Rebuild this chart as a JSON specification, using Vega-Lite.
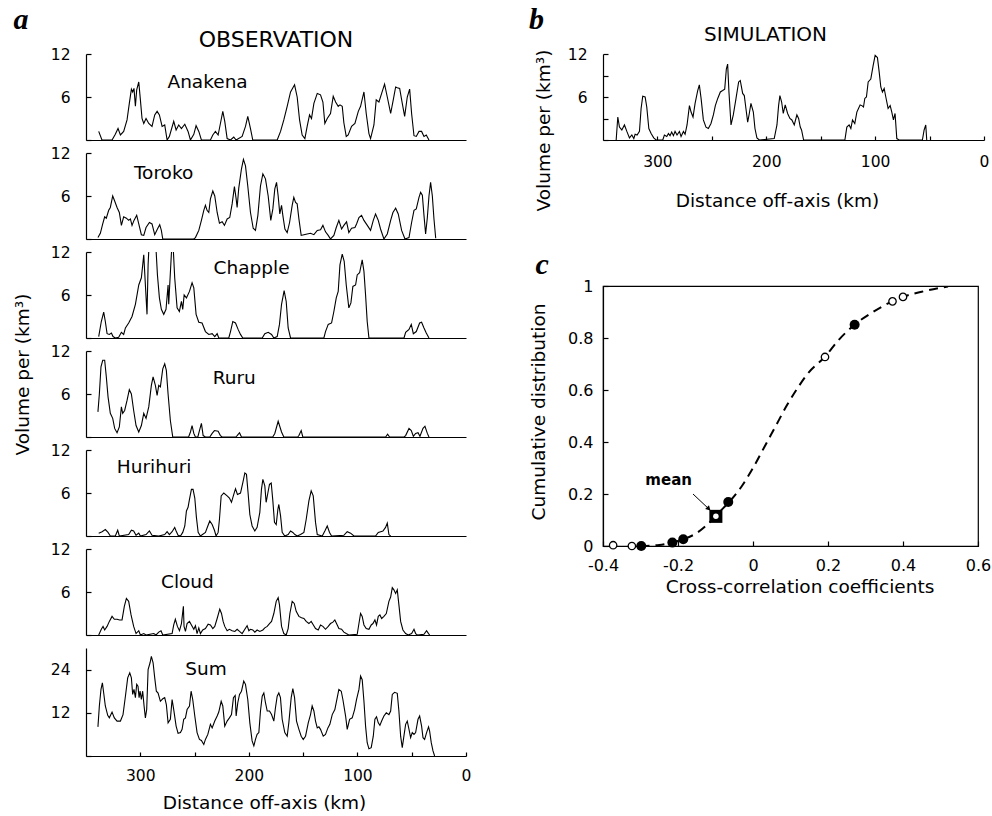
{
"$schema": "https://vega.github.io/schema/vega-lite/v6.json",
"background": "white",
"padding": {"left": 13, "top": 5, "right": 0, "bottom": 0},
"config": {
 "font": "DejaVu Sans",
 "view": {"stroke": null},
 "axis": {"domainColor": "#000", "tickColor": "#000", "labelColor": "#000", "titleColor": "#000", "grid": false, "labelFont": "DejaVu Sans", "titleFont": "DejaVu Sans", "labelFontSize": 15.5, "titleFontSize": 18.5, "titleFontWeight": "normal", "domainWidth": 1.2, "tickWidth": 1.2, "labelFlush": false},
 "title": {"font": "Liberation Serif", "fontStyle": "italic", "fontWeight": "bold", "fontSize": 30, "color": "#000", "anchor": "start", "frame": "bounds"},
 "line": {"color": "#000", "strokeWidth": 1.1}
},
"datasets": {
 "Anakena": [{"d":338.3,"v":1.2},{"d":335.3,"v":0},{"d":326,"v":0},{"d":323,"v":0.8},{"d":320.5,"v":1.6},{"d":318.3,"v":0.7},{"d":315.3,"v":1.2},{"d":312.2,"v":2.8},{"d":310.1,"v":5.1},{"d":308.2,"v":7.1},{"d":307,"v":6.7},{"d":305.8,"v":7.2},{"d":304.5,"v":4.7},{"d":303.3,"v":7.0},{"d":301.4,"v":8.1},{"d":299.9,"v":5.6},{"d":298.4,"v":3.0},{"d":296.8,"v":2.3},{"d":294.7,"v":3.0},{"d":292.2,"v":2.3},{"d":289.2,"v":1.9},{"d":286.7,"v":3.5},{"d":284.5,"v":4.0},{"d":282.4,"v":3.5},{"d":279.9,"v":1.9},{"d":277.5,"v":2.1},{"d":275.3,"v":0},{"d":273.2,"v":0.5},{"d":269.2,"v":2.6},{"d":267,"v":1.4},{"d":264.6,"v":2.1},{"d":262.1,"v":1.6},{"d":259,"v":2.2},{"d":256,"v":1.2},{"d":253.8,"v":0},{"d":250.7,"v":0.8},{"d":248.6,"v":2.0},{"d":246.1,"v":1.2},{"d":243.7,"v":0},{"d":235.4,"v":0},{"d":233.2,"v":0.7},{"d":230.8,"v":1.2},{"d":228.3,"v":0.7},{"d":226.2,"v":2.3},{"d":224,"v":4.0},{"d":222.2,"v":2.6},{"d":220,"v":0.2},{"d":216.9,"v":0},{"d":213.9,"v":0.4},{"d":211.7,"v":0},{"d":206.2,"v":0.5},{"d":203.1,"v":1.9},{"d":201,"v":3.3},{"d":198.5,"v":1.6},{"d":196.4,"v":0},{"d":173.9,"v":0},{"d":170.8,"v":1.2},{"d":167.8,"v":2.8},{"d":164.7,"v":4.7},{"d":161.6,"v":6.7},{"d":157.9,"v":7.7},{"d":155.5,"v":6.0},{"d":153.3,"v":2.8},{"d":150.9,"v":0.7},{"d":148.4,"v":0.2},{"d":146.3,"v":1.9},{"d":144.1,"v":3.5},{"d":142.3,"v":3.0},{"d":140.1,"v":5.1},{"d":137,"v":6.5},{"d":134,"v":6.3},{"d":131.8,"v":5.3},{"d":130,"v":2.3},{"d":127.8,"v":3.0},{"d":124.8,"v":3.7},{"d":122.3,"v":6.1},{"d":120.1,"v":5.3},{"d":117.7,"v":4.7},{"d":116.1,"v":4.9},{"d":114,"v":4.7},{"d":112.5,"v":2.4},{"d":110.3,"v":0.5},{"d":108.5,"v":0.7},{"d":105.4,"v":1.9},{"d":102.3,"v":2.3},{"d":99.2,"v":4.0},{"d":97.1,"v":4.7},{"d":94,"v":6.7},{"d":91.9,"v":3.7},{"d":89.4,"v":0.9},{"d":87.9,"v":0.2},{"d":84.8,"v":2.1},{"d":82.7,"v":5.6},{"d":80.2,"v":5.3},{"d":77.7,"v":6.5},{"d":75,"v":7.8},{"d":72.5,"v":6.0},{"d":69.4,"v":3.7},{"d":67,"v":5.6},{"d":64.8,"v":7.4},{"d":63.3,"v":7.3},{"d":61.1,"v":7.2},{"d":58.7,"v":5.1},{"d":56.5,"v":3.3},{"d":54.1,"v":6.0},{"d":51.9,"v":7.1},{"d":50.1,"v":3.7},{"d":47.9,"v":0.6},{"d":45.8,"v":0.5},{"d":43.3,"v":1.2},{"d":40.9,"v":1.2},{"d":38.7,"v":0.5},{"d":36.6,"v":0.7},{"d":34.1,"v":0}],
 "Toroko": [{"d":339,"v":0.2},{"d":336.8,"v":0.8},{"d":334.6,"v":2.1},{"d":332.8,"v":3.1},{"d":331.3,"v":2.9},{"d":329.1,"v":4.0},{"d":327.6,"v":4.4},{"d":325.4,"v":6.0},{"d":323.6,"v":5.3},{"d":321.4,"v":4.4},{"d":319.3,"v":3.7},{"d":317.4,"v":1.9},{"d":315.3,"v":3.1},{"d":312.8,"v":2.9},{"d":310.7,"v":2.6},{"d":309.1,"v":2.8},{"d":307.6,"v":1.9},{"d":305.8,"v":2.6},{"d":303.3,"v":3.3},{"d":301.4,"v":2.1},{"d":299,"v":0.6},{"d":296.8,"v":0.5},{"d":294.7,"v":1.6},{"d":291.6,"v":2.3},{"d":289.2,"v":2.1},{"d":286.7,"v":0.6},{"d":284.2,"v":1.4},{"d":282.1,"v":2.0},{"d":280.6,"v":1.2},{"d":279.3,"v":0},{"d":250.7,"v":0},{"d":249.2,"v":0.2},{"d":246.1,"v":1.2},{"d":243.7,"v":2.6},{"d":241.5,"v":4.0},{"d":240,"v":4.7},{"d":238.5,"v":4.0},{"d":236.9,"v":3.7},{"d":235.4,"v":5.6},{"d":233.2,"v":6.7},{"d":231.4,"v":6.0},{"d":229.2,"v":3.7},{"d":227.1,"v":2.2},{"d":224.6,"v":2.4},{"d":222.5,"v":1.9},{"d":220,"v":2.8},{"d":217.6,"v":3.0},{"d":215.4,"v":4.9},{"d":213.3,"v":7.3},{"d":211.7,"v":5.6},{"d":210.8,"v":4.4},{"d":209.3,"v":7.1},{"d":206.8,"v":9.8},{"d":205,"v":11.1},{"d":203.1,"v":10.2},{"d":201,"v":7.4},{"d":198.5,"v":3.7},{"d":196,"v":1.5},{"d":193.9,"v":1.2},{"d":191.7,"v":3.3},{"d":189.3,"v":7.4},{"d":187.1,"v":9.1},{"d":184.7,"v":8.4},{"d":182.2,"v":6.0},{"d":179.8,"v":2.6},{"d":177.9,"v":4.2},{"d":176.1,"v":7.0},{"d":174.5,"v":7.9},{"d":173,"v":6.0},{"d":171.5,"v":3.5},{"d":169.9,"v":4.7},{"d":168.7,"v":3.3},{"d":166.8,"v":1.4},{"d":164.7,"v":0.9},{"d":162.5,"v":2.3},{"d":160.1,"v":4.7},{"d":158.6,"v":5.8},{"d":157,"v":5.1},{"d":155.5,"v":4.9},{"d":153.9,"v":2.8},{"d":151.8,"v":0.5},{"d":149.3,"v":0.6},{"d":146.3,"v":0.7},{"d":143.2,"v":0.8},{"d":140.1,"v":0.6},{"d":137,"v":1.2},{"d":134,"v":1.3},{"d":131.8,"v":1.9},{"d":129.4,"v":1.0},{"d":126.9,"v":0.5},{"d":124.8,"v":0},{"d":121.7,"v":0.5},{"d":119.5,"v":1.6},{"d":117.1,"v":2.6},{"d":114.6,"v":1.4},{"d":112.5,"v":1.9},{"d":110,"v":2.4},{"d":107.9,"v":0.9},{"d":105.4,"v":1.5},{"d":102.3,"v":1.6},{"d":100.8,"v":2.1},{"d":98.6,"v":3.0},{"d":96.2,"v":3.3},{"d":94,"v":2.6},{"d":90.9,"v":1.9},{"d":87.9,"v":1.2},{"d":85.4,"v":2.6},{"d":83.3,"v":3.5},{"d":80.8,"v":2.6},{"d":78.7,"v":1.4},{"d":75.6,"v":0},{"d":72.5,"v":0.7},{"d":69.4,"v":2.6},{"d":67.3,"v":3.7},{"d":64.8,"v":4.3},{"d":62.4,"v":3.5},{"d":59.3,"v":1.2},{"d":56.2,"v":0},{"d":52.5,"v":0.2},{"d":50.1,"v":2.3},{"d":47.9,"v":4.0},{"d":45.8,"v":4.2},{"d":43.3,"v":5.8},{"d":41.8,"v":6.5},{"d":40.2,"v":6.1},{"d":38.7,"v":3.3},{"d":37.2,"v":0.7},{"d":35.6,"v":3.0},{"d":34.1,"v":6.0},{"d":32.6,"v":7.9},{"d":31,"v":6.0},{"d":29.5,"v":2.8},{"d":27.9,"v":0.1}],
 "Chapple": [{"d":338.3,"v":0.2},{"d":335.9,"v":2.3},{"d":333.7,"v":3.6},{"d":332.2,"v":2.3},{"d":330.6,"v":0.6},{"d":328.5,"v":0.5},{"d":326.6,"v":0.7},{"d":325.1,"v":0.2},{"d":323,"v":0},{"d":319.9,"v":0.1},{"d":317.4,"v":0.8},{"d":315.3,"v":0.5},{"d":313.7,"v":1.4},{"d":310.7,"v":2.1},{"d":307.6,"v":3.0},{"d":304.5,"v":4.7},{"d":301.4,"v":7.4},{"d":299,"v":8.4},{"d":296.8,"v":11.6},{"d":295.3,"v":7.4},{"d":293.8,"v":3.3},{"d":292.8,"v":10.2},{"d":291.6,"v":14},{"d":286.1,"v":14},{"d":284.2,"v":8.8},{"d":282.4,"v":5.6},{"d":280.6,"v":4.0},{"d":278.4,"v":3.3},{"d":276.3,"v":4.0},{"d":274.4,"v":7.4},{"d":273.8,"v":4.7},{"d":272.9,"v":7.4},{"d":271.3,"v":11.9},{"d":269.8,"v":13},{"d":268.3,"v":8.4},{"d":266.1,"v":4.2},{"d":264,"v":3.7},{"d":262.1,"v":5.1},{"d":260.9,"v":4.0},{"d":259.6,"v":6.0},{"d":257.5,"v":5.6},{"d":254.7,"v":6.5},{"d":252.3,"v":7.7},{"d":250.7,"v":7.0},{"d":248.6,"v":3.3},{"d":246.1,"v":2.2},{"d":243.1,"v":2.1},{"d":240,"v":0.9},{"d":236.9,"v":0.5},{"d":233.8,"v":0.6},{"d":231.4,"v":0.2},{"d":229.2,"v":0.6},{"d":227.7,"v":0},{"d":218.5,"v":0},{"d":216.9,"v":0.9},{"d":214.8,"v":2.3},{"d":212.3,"v":2.1},{"d":209.9,"v":1.2},{"d":207.7,"v":0.5},{"d":205.6,"v":0},{"d":187.7,"v":0},{"d":185.3,"v":0.6},{"d":182.2,"v":0.8},{"d":179.1,"v":0.5},{"d":177,"v":0},{"d":173.9,"v":0.2},{"d":171.8,"v":1.9},{"d":169.9,"v":4.7},{"d":167.5,"v":6.6},{"d":165.6,"v":5.1},{"d":163.8,"v":1.4},{"d":161.6,"v":0},{"d":130.9,"v":0},{"d":129.4,"v":0.9},{"d":126.9,"v":1.9},{"d":123.8,"v":2.1},{"d":121.7,"v":3.7},{"d":119.5,"v":5.6},{"d":117.7,"v":6.5},{"d":116.1,"v":10.2},{"d":114,"v":11.7},{"d":112.2,"v":10.7},{"d":110.3,"v":7.4},{"d":107.9,"v":4.2},{"d":106,"v":4.9},{"d":104.2,"v":7.2},{"d":101.7,"v":7.4},{"d":100.2,"v":8.8},{"d":98,"v":9.1},{"d":95.6,"v":10.9},{"d":94,"v":9.3},{"d":92.5,"v":6.0},{"d":91,"v":2.3},{"d":89.4,"v":0},{"d":57.1,"v":0},{"d":55.6,"v":0.8},{"d":52.5,"v":1.2},{"d":50.4,"v":1.9},{"d":48.5,"v":0.6},{"d":45.8,"v":0.9},{"d":42.7,"v":2.1},{"d":40.9,"v":2.2},{"d":38.7,"v":1.4},{"d":36.6,"v":0.7},{"d":34.1,"v":0}],
 "Ruru": [{"d":339,"v":3.5},{"d":337.7,"v":6.0},{"d":336.2,"v":9.8},{"d":334.6,"v":10.7},{"d":332.8,"v":10.7},{"d":331.3,"v":8.4},{"d":329.7,"v":5.6},{"d":327.6,"v":3.3},{"d":325.4,"v":2.6},{"d":323.6,"v":1.2},{"d":321.4,"v":0.6},{"d":319.3,"v":1.4},{"d":317.4,"v":4.2},{"d":316.2,"v":3.3},{"d":314.4,"v":3.7},{"d":312.2,"v":5.1},{"d":310.1,"v":6.6},{"d":308.2,"v":6.0},{"d":306.1,"v":3.7},{"d":303.9,"v":1.6},{"d":301.4,"v":0.7},{"d":299,"v":1.6},{"d":296.8,"v":3.3},{"d":294.7,"v":2.6},{"d":292.2,"v":4.2},{"d":289.8,"v":7.2},{"d":288.2,"v":8.4},{"d":286.1,"v":7.2},{"d":284.5,"v":5.8},{"d":283,"v":7.2},{"d":281.5,"v":7.0},{"d":279.3,"v":9.5},{"d":277.5,"v":10.2},{"d":276,"v":9.3},{"d":274.4,"v":6.0},{"d":272.3,"v":2.3},{"d":270.1,"v":0},{"d":255.5,"v":0},{"d":253.8,"v":0.7},{"d":252.3,"v":1.6},{"d":250.7,"v":0.5},{"d":249.2,"v":0},{"d":247,"v":0},{"d":245.5,"v":0.9},{"d":243.7,"v":1.9},{"d":242.1,"v":0.2},{"d":240,"v":0},{"d":236,"v":0},{"d":233.8,"v":0.5},{"d":231.7,"v":0.9},{"d":228.3,"v":0.8},{"d":226.2,"v":0.2},{"d":224.6,"v":0},{"d":212,"v":0},{"d":210.8,"v":0.2},{"d":208.6,"v":0.6},{"d":206.8,"v":0},{"d":178,"v":0},{"d":176.1,"v":0.5},{"d":173,"v":2.2},{"d":169.9,"v":0.7},{"d":167.8,"v":0},{"d":155,"v":0},{"d":153.9,"v":0.2},{"d":151.8,"v":0.9},{"d":150.3,"v":0},{"d":74,"v":0},{"d":72.2,"v":0.4},{"d":70.4,"v":0},{"d":57,"v":0},{"d":55.6,"v":0.2},{"d":52.5,"v":1.2},{"d":50.4,"v":0.9},{"d":48.5,"v":0.1},{"d":46.4,"v":0.5},{"d":44.2,"v":0.6},{"d":42.4,"v":0.1},{"d":39.6,"v":1.2},{"d":37.8,"v":1.5},{"d":35.6,"v":0.5},{"d":34.1,"v":0}],
 "Hurihuri": [{"d":338.3,"v":0.4},{"d":335.2,"v":0.6},{"d":332.2,"v":0.9},{"d":329.7,"v":0.5},{"d":327.6,"v":0},{"d":323,"v":0},{"d":320.8,"v":0.8},{"d":319.3,"v":0},{"d":310.7,"v":0.2},{"d":308.2,"v":0.8},{"d":306.1,"v":0.7},{"d":303.9,"v":0.1},{"d":301.4,"v":0.4},{"d":299.9,"v":0},{"d":294.7,"v":0.2},{"d":291.6,"v":0.7},{"d":289.2,"v":0.1},{"d":283,"v":0},{"d":277.5,"v":0.2},{"d":275.3,"v":0.6},{"d":273.2,"v":0.2},{"d":270.7,"v":0.6},{"d":268.3,"v":1.2},{"d":267,"v":0.7},{"d":265.2,"v":0.1},{"d":263,"v":0},{"d":260.9,"v":0.5},{"d":259,"v":1.4},{"d":257.5,"v":3.5},{"d":256,"v":4.0},{"d":254.7,"v":5.1},{"d":252.9,"v":6.5},{"d":251.4,"v":6.5},{"d":249.8,"v":5.3},{"d":248.3,"v":2.6},{"d":246.7,"v":0.5},{"d":244.6,"v":0},{"d":240,"v":0.5},{"d":237.8,"v":1.4},{"d":236,"v":2.1},{"d":233.8,"v":1.6},{"d":231.7,"v":0.8},{"d":230.2,"v":0},{"d":228.3,"v":0.5},{"d":227.1,"v":2.3},{"d":225.5,"v":5.6},{"d":223.1,"v":6.0},{"d":220,"v":5.6},{"d":217.9,"v":5.3},{"d":216,"v":4.7},{"d":213.9,"v":5.8},{"d":212.3,"v":6.6},{"d":210.5,"v":5.8},{"d":207.7,"v":6.0},{"d":205.6,"v":7.4},{"d":203.7,"v":8.8},{"d":202.2,"v":8.6},{"d":200.7,"v":6.0},{"d":199.1,"v":3.0},{"d":197,"v":1.4},{"d":194.5,"v":0.7},{"d":192.4,"v":1.2},{"d":189.9,"v":3.3},{"d":188.4,"v":6.5},{"d":187.1,"v":7.9},{"d":185.3,"v":7.0},{"d":184.1,"v":4.7},{"d":182.5,"v":6.0},{"d":181,"v":7.2},{"d":179.4,"v":7.4},{"d":177.9,"v":4.9},{"d":176.4,"v":1.9},{"d":174.8,"v":1.6},{"d":173.3,"v":3.7},{"d":172.4,"v":4.4},{"d":170.8,"v":2.8},{"d":169.3,"v":0.5},{"d":166.9,"v":0},{"d":163.8,"v":0.2},{"d":161.6,"v":0.7},{"d":159.5,"v":0.5},{"d":157.6,"v":0.2},{"d":155.5,"v":0},{"d":152.4,"v":0.2},{"d":149.3,"v":0.5},{"d":147.2,"v":2.3},{"d":144.7,"v":4.9},{"d":142.6,"v":6.3},{"d":140.7,"v":5.6},{"d":138.6,"v":1.9},{"d":137,"v":0.2},{"d":132.4,"v":0},{"d":130,"v":0.7},{"d":127.8,"v":1.4},{"d":125.7,"v":0.5},{"d":123.8,"v":0},{"d":112.5,"v":0.1},{"d":109.4,"v":0.6},{"d":106.3,"v":0.4},{"d":103.2,"v":0},{"d":83.3,"v":0},{"d":80.8,"v":0.5},{"d":78.6,"v":0.6},{"d":76.5,"v":0.7},{"d":74.1,"v":1.2},{"d":72.5,"v":1.8},{"d":71,"v":0.2},{"d":69.4,"v":0}],
 "Cloud": [{"d":338.3,"v":0},{"d":335.9,"v":0.8},{"d":334.3,"v":1.2},{"d":332.8,"v":0.7},{"d":330.6,"v":1.2},{"d":328.5,"v":1.9},{"d":326,"v":2.6},{"d":323.9,"v":2.2},{"d":321.4,"v":2.2},{"d":319,"v":2.1},{"d":316.8,"v":2.1},{"d":314.7,"v":4.0},{"d":312.8,"v":5.1},{"d":310.7,"v":4.7},{"d":308.5,"v":2.8},{"d":306.1,"v":1.2},{"d":303.9,"v":0.2},{"d":301.4,"v":0.6},{"d":299.9,"v":0},{"d":296.8,"v":0.2},{"d":294.7,"v":0},{"d":287.6,"v":0.2},{"d":285.5,"v":0},{"d":283,"v":0.4},{"d":280.9,"v":0.6},{"d":279.3,"v":0},{"d":270.7,"v":0.2},{"d":269.2,"v":1.4},{"d":267.7,"v":2.2},{"d":265.8,"v":1.2},{"d":263.9,"v":0.6},{"d":262.1,"v":1.6},{"d":260.3,"v":4.0},{"d":259.7,"v":1.2},{"d":258.4,"v":0.5},{"d":256.9,"v":1.6},{"d":254.7,"v":1.9},{"d":252.9,"v":1.4},{"d":250.7,"v":0.8},{"d":249.2,"v":1.3},{"d":247.7,"v":0.2},{"d":246.1,"v":1.0},{"d":244.6,"v":0.2},{"d":242.5,"v":0.7},{"d":240,"v":0.9},{"d":237.5,"v":1.5},{"d":235.4,"v":1.4},{"d":233.2,"v":0.9},{"d":231.4,"v":1.2},{"d":229.2,"v":2.3},{"d":226.8,"v":3.6},{"d":225.2,"v":3.0},{"d":223.7,"v":1.9},{"d":222.2,"v":1.2},{"d":220,"v":0.6},{"d":217.9,"v":0.8},{"d":215.4,"v":0.6},{"d":212.9,"v":0.5},{"d":210.8,"v":0.8},{"d":208.6,"v":0.5},{"d":206.2,"v":0.2},{"d":203.7,"v":0.8},{"d":201.6,"v":1.3},{"d":200,"v":0.6},{"d":198.5,"v":0.8},{"d":196.4,"v":0.7},{"d":194.5,"v":0.4},{"d":192.4,"v":0.7},{"d":189.9,"v":0.5},{"d":187.1,"v":0.7},{"d":185.3,"v":1.0},{"d":183.1,"v":1.2},{"d":181,"v":1.6},{"d":179.1,"v":1.9},{"d":177,"v":3.0},{"d":174.8,"v":4.7},{"d":173,"v":5.2},{"d":171.8,"v":4.2},{"d":169.9,"v":1.2},{"d":167.8,"v":0.2},{"d":165.6,"v":0},{"d":163.8,"v":0.9},{"d":162.2,"v":3.0},{"d":160.1,"v":4.7},{"d":158.2,"v":4.4},{"d":156.4,"v":3.3},{"d":153.9,"v":2.6},{"d":151.5,"v":2.4},{"d":149.3,"v":2.3},{"d":147.2,"v":1.9},{"d":144.7,"v":1.6},{"d":142.6,"v":1.9},{"d":141,"v":1.5},{"d":138.6,"v":0.9},{"d":136.1,"v":0.7},{"d":134,"v":1.4},{"d":131.8,"v":1.2},{"d":129.4,"v":0.8},{"d":126.9,"v":1.2},{"d":124.8,"v":1.6},{"d":122.6,"v":1.8},{"d":120.8,"v":2.1},{"d":118.6,"v":1.4},{"d":117.1,"v":0.9},{"d":114.6,"v":0.8},{"d":112.5,"v":0.4},{"d":110.3,"v":0.2},{"d":107.9,"v":0},{"d":100.2,"v":0.1},{"d":98.6,"v":1.6},{"d":97.1,"v":3.0},{"d":95.6,"v":2.6},{"d":94,"v":1.4},{"d":91.9,"v":0.9},{"d":89.4,"v":0.8},{"d":87.3,"v":1.4},{"d":85.7,"v":1.6},{"d":83.9,"v":2.1},{"d":82.4,"v":1.4},{"d":80.8,"v":2.6},{"d":79.3,"v":2.8},{"d":77.7,"v":2.3},{"d":75.6,"v":2.6},{"d":73.4,"v":3.0},{"d":71,"v":4.7},{"d":69.4,"v":5.3},{"d":67.9,"v":6.6},{"d":66.4,"v":6.3},{"d":64.8,"v":5.8},{"d":63.3,"v":6.3},{"d":61.8,"v":4.2},{"d":60.2,"v":1.9},{"d":58.1,"v":0.7},{"d":55.6,"v":0.2},{"d":53.2,"v":0},{"d":50.1,"v":0.2},{"d":47.9,"v":0.8},{"d":46.4,"v":0.2},{"d":44.8,"v":0},{"d":38.7,"v":0.1},{"d":36.3,"v":0.6},{"d":34.5,"v":0.2},{"d":33.5,"v":0}],
 "Sum": [{"d":339,"v":8.1},{"d":337.7,"v":13.9},{"d":336.2,"v":18.5},{"d":334.9,"v":20.3},{"d":333.7,"v":17.5},{"d":332.2,"v":13.9},{"d":330,"v":11.3},{"d":328.5,"v":10.6},{"d":326,"v":12.2},{"d":323.9,"v":10.6},{"d":321.4,"v":9.7},{"d":318.3,"v":9.7},{"d":315.9,"v":11.5},{"d":313.7,"v":16.6},{"d":311.6,"v":21.7},{"d":309.7,"v":23.1},{"d":308.2,"v":21.7},{"d":307,"v":17.1},{"d":305.8,"v":18.5},{"d":304.5,"v":16.2},{"d":303.3,"v":19.9},{"d":302.1,"v":19.4},{"d":301.1,"v":16.2},{"d":300.2,"v":18.0},{"d":299,"v":15.7},{"d":297.8,"v":18.0},{"d":296.5,"v":13.9},{"d":295.3,"v":10.6},{"d":294.1,"v":12.9},{"d":292.8,"v":24.0},{"d":291,"v":25.9},{"d":289.8,"v":27.7},{"d":288.2,"v":25.9},{"d":286.7,"v":21.7},{"d":285.2,"v":18.0},{"d":283.6,"v":17.5},{"d":281.5,"v":15.2},{"d":279.3,"v":15.9},{"d":277.5,"v":16.2},{"d":276,"v":14.3},{"d":274.4,"v":9.2},{"d":272.3,"v":10.2},{"d":270.7,"v":15.7},{"d":269.2,"v":12.9},{"d":267,"v":8.3},{"d":265.2,"v":6.3},{"d":263,"v":6.5},{"d":261.5,"v":7.4},{"d":260,"v":10.2},{"d":258.4,"v":10.6},{"d":256.9,"v":12.9},{"d":254.7,"v":13.9},{"d":253.2,"v":18.0},{"d":251.7,"v":15.7},{"d":249.8,"v":11.1},{"d":247.7,"v":6.5},{"d":245.5,"v":4.6},{"d":243.7,"v":4.3},{"d":241.5,"v":3.2},{"d":240,"v":4.6},{"d":237.8,"v":6.0},{"d":235.4,"v":8.8},{"d":233.8,"v":7.8},{"d":231.4,"v":9.7},{"d":229.2,"v":11.1},{"d":227.7,"v":12.2},{"d":225.5,"v":15.2},{"d":224,"v":13.9},{"d":222.2,"v":8.3},{"d":220,"v":9.7},{"d":217.9,"v":10.6},{"d":216,"v":11.5},{"d":214.2,"v":16.2},{"d":212.6,"v":16.8},{"d":211.7,"v":11.1},{"d":210.2,"v":14.8},{"d":208.6,"v":17.1},{"d":206.8,"v":18.0},{"d":204.7,"v":20.8},{"d":203.1,"v":19.9},{"d":201,"v":15.7},{"d":199.1,"v":9.2},{"d":197,"v":4.2},{"d":195.4,"v":2.8},{"d":193.9,"v":4.6},{"d":192.4,"v":6.0},{"d":190.8,"v":6.5},{"d":189.3,"v":12.5},{"d":187.7,"v":16.6},{"d":186.2,"v":17.5},{"d":184.7,"v":14.8},{"d":183.1,"v":12.5},{"d":181,"v":12.5},{"d":179.1,"v":11.5},{"d":177,"v":9.7},{"d":175.5,"v":13.4},{"d":173.9,"v":16.6},{"d":172.4,"v":17.5},{"d":170.9,"v":16.2},{"d":169.3,"v":10.2},{"d":166.9,"v":6.5},{"d":164.7,"v":5.5},{"d":163.2,"v":9.2},{"d":161,"v":16.2},{"d":159.5,"v":18.7},{"d":157.9,"v":16.2},{"d":156.1,"v":9.7},{"d":153.9,"v":7.4},{"d":151.8,"v":5.5},{"d":149.9,"v":4.6},{"d":147.8,"v":5.5},{"d":145.3,"v":9.2},{"d":143.2,"v":11.5},{"d":141.7,"v":13.9},{"d":140.1,"v":12.5},{"d":138.6,"v":9.7},{"d":137,"v":7.8},{"d":135.5,"v":8.1},{"d":134,"v":7.4},{"d":131.5,"v":5.5},{"d":129.4,"v":6.0},{"d":127.2,"v":7.8},{"d":125.4,"v":8.8},{"d":123.2,"v":11.5},{"d":120.8,"v":12.9},{"d":118.6,"v":16.2},{"d":117.1,"v":18.5},{"d":114.9,"v":18.0},{"d":113.4,"v":15.7},{"d":110.9,"v":11.1},{"d":109.4,"v":7.4},{"d":107.2,"v":10.2},{"d":104.8,"v":10.6},{"d":102.6,"v":12.9},{"d":100.8,"v":15.7},{"d":98.6,"v":18.5},{"d":97.1,"v":22.2},{"d":95.6,"v":21.2},{"d":94,"v":15.2},{"d":92.5,"v":8.3},{"d":91,"v":3.7},{"d":89.4,"v":2.0},{"d":87.3,"v":2.3},{"d":85.4,"v":5.5},{"d":83.9,"v":10.2},{"d":82.4,"v":10.9},{"d":80.8,"v":9.2},{"d":79.3,"v":8.5},{"d":77.7,"v":9.7},{"d":75.6,"v":11.1},{"d":73.4,"v":12.0},{"d":71,"v":11.5},{"d":69.4,"v":12.5},{"d":67.9,"v":17.1},{"d":65.8,"v":17.7},{"d":63.3,"v":17.4},{"d":61.8,"v":12.5},{"d":60.2,"v":5.5},{"d":58.7,"v":2.3},{"d":57.2,"v":5.5},{"d":55.6,"v":8.8},{"d":54.1,"v":9.7},{"d":52.5,"v":7.4},{"d":51,"v":5.1},{"d":49.5,"v":6.5},{"d":47.9,"v":6.0},{"d":46.4,"v":6.5},{"d":44.2,"v":10.2},{"d":42.7,"v":11.1},{"d":40.9,"v":8.3},{"d":39.6,"v":5.1},{"d":38.1,"v":4.6},{"d":36.3,"v":6.5},{"d":34.5,"v":8.1},{"d":33.5,"v":6.9},{"d":32,"v":3.7},{"d":30.4,"v":1.4},{"d":28.9,"v":0}],
 "Sim": [{"d":337.9,"v":0},{"d":336.4,"v":3.2},{"d":334.9,"v":1.8},{"d":332.7,"v":1.4},{"d":330.3,"v":2.1},{"d":328.1,"v":1.2},{"d":325.7,"v":0.3},{"d":323.5,"v":0.7},{"d":321.7,"v":0.2},{"d":320.5,"v":0.8},{"d":318.7,"v":0.7},{"d":316.5,"v":1.2},{"d":315,"v":4.4},{"d":313.5,"v":6.1},{"d":311.3,"v":6.0},{"d":309.8,"v":4.6},{"d":307.9,"v":1.6},{"d":305.8,"v":0.9},{"d":303.4,"v":0.3},{"d":301.2,"v":0},{"d":295.1,"v":0},{"d":293.6,"v":0.7},{"d":291.4,"v":0.5},{"d":289.9,"v":0.9},{"d":288.4,"v":0.6},{"d":286.9,"v":1.1},{"d":285.3,"v":0.6},{"d":283.8,"v":1.2},{"d":282,"v":0.7},{"d":279.8,"v":1.2},{"d":278.3,"v":0.5},{"d":276.1,"v":1.2},{"d":274.6,"v":0.8},{"d":272.8,"v":2.1},{"d":270.6,"v":4.8},{"d":269.1,"v":3.9},{"d":267.3,"v":3.2},{"d":265.4,"v":5.1},{"d":263,"v":6.9},{"d":261.5,"v":7.7},{"d":259.9,"v":5.8},{"d":257.8,"v":2.8},{"d":255.4,"v":1.8},{"d":253.2,"v":1.6},{"d":250.8,"v":2.3},{"d":248.6,"v":3.5},{"d":246.8,"v":4.8},{"d":244.6,"v":5.8},{"d":242.2,"v":6.7},{"d":240.1,"v":6.9},{"d":238.2,"v":7.1},{"d":236.7,"v":9.9},{"d":235.5,"v":10.6},{"d":234.3,"v":6.7},{"d":232.4,"v":2.1},{"d":230.3,"v":3.5},{"d":227.8,"v":5.8},{"d":225.4,"v":8.1},{"d":223.9,"v":8.3},{"d":221.7,"v":6.5},{"d":220.2,"v":6.2},{"d":218.7,"v":4.4},{"d":217.1,"v":2.5},{"d":215.6,"v":3.7},{"d":214.1,"v":5.1},{"d":211.9,"v":3.9},{"d":210.4,"v":1.6},{"d":208.6,"v":0.3},{"d":206.4,"v":0},{"d":192.7,"v":0.2},{"d":190.2,"v":2.1},{"d":188.7,"v":4.8},{"d":187.5,"v":6.2},{"d":185.9,"v":5.3},{"d":184.4,"v":3.7},{"d":182.6,"v":4.9},{"d":180.4,"v":3.7},{"d":178.3,"v":3.0},{"d":176.5,"v":2.8},{"d":174.3,"v":2.1},{"d":171.9,"v":3.5},{"d":170.3,"v":3.0},{"d":168.8,"v":1.8},{"d":167.6,"v":1.4},{"d":165.7,"v":0},{"d":127.8,"v":0},{"d":126,"v":1.8},{"d":123.9,"v":2.1},{"d":122.3,"v":1.6},{"d":120.8,"v":2.8},{"d":118.7,"v":2.3},{"d":116.8,"v":3.9},{"d":115.3,"v":4.4},{"d":113.8,"v":4.9},{"d":112.2,"v":4.8},{"d":110.7,"v":4.6},{"d":109.5,"v":5.8},{"d":108,"v":6.0},{"d":106.4,"v":8.1},{"d":104,"v":8.5},{"d":101.8,"v":10.4},{"d":100,"v":11.8},{"d":97.9,"v":11.5},{"d":96.3,"v":9.5},{"d":94.8,"v":7.4},{"d":93.3,"v":6.7},{"d":91.7,"v":7.2},{"d":90.2,"v":6.0},{"d":88.1,"v":4.4},{"d":86.2,"v":4.8},{"d":84.7,"v":3.9},{"d":83.2,"v":2.8},{"d":81.7,"v":3.7},{"d":80.1,"v":0.2},{"d":78,"v":0},{"d":56.6,"v":0},{"d":55,"v":1.4},{"d":53.5,"v":2.1},{"d":52.6,"v":0}],
 "curve": [{"r":-0.3,"c":0},{"r":-0.25,"c":0.004},{"r":-0.22,"c":0.012},{"r":-0.19,"c":0.024},{"r":-0.15,"c":0.05},{"r":-0.12,"c":0.085},{"r":-0.09,"c":0.13},{"r":-0.06,"c":0.175},{"r":-0.03,"c":0.23},{"r":0,"c":0.3},{"r":0.03,"c":0.38},{"r":0.06,"c":0.46},{"r":0.09,"c":0.54},{"r":0.12,"c":0.61},{"r":0.15,"c":0.67},{"r":0.19,"c":0.725},{"r":0.23,"c":0.795},{"r":0.27,"c":0.85},{"r":0.32,"c":0.9},{"r":0.37,"c":0.94},{"r":0.4,"c":0.958},{"r":0.45,"c":0.978},{"r":0.52,"c":0.998}],
 "pts": [{"r":-0.373,"c":0.003,"k":"open"},{"r":-0.323,"c":0.0,"k":"open"},{"r":-0.298,"c":0.0,"k":"filled"},{"r":-0.215,"c":0.013,"k":"filled"},{"r":-0.186,"c":0.026,"k":"filled"},{"r":-0.066,"c":0.169,"k":"filled"},{"r":0.192,"c":0.727,"k":"open"},{"r":0.271,"c":0.851,"k":"filled"},{"r":0.372,"c":0.941,"k":"open"},{"r":0.4,"c":0.958,"k":"open"}],
 "mean": [{"r":-0.099,"c":0.114,"label":"mean","lr":-0.225,"lc":0.235,"ar":-0.16,"ac":0.2,"ar2":-0.118,"ac2":0.143}]
},
"hconcat": [
 {
  "title": {"text": "a", "offset": -6.5},
  "spacing": 13,
  "bounds": "flush",
  "vconcat": [
   {"width": 380, "height": 86,
    "title": {"text": "OBSERVATION", "font": "DejaVu Sans", "fontStyle": "normal", "fontWeight": "normal", "fontSize": 22, "anchor": "middle", "frame": "group", "offset": -4.5},
    "layer": [
     {"data": {"name": "Anakena"}, "mark": {"type": "line", "clip": true},
      "encoding": {"x": {"field": "d", "type": "quantitative", "scale": {"domain": [0, 350], "reverse": true, "nice": false}, "axis": {"title": null, "labels": false, "ticks": false}},
                   "y": {"field": "v", "type": "quantitative", "scale": {"domain": [0, 12], "nice": false}, "axis": {"title": null, "values": [0, 3, 6, 9, 12], "labelExpr": "datum.value == 6 || datum.value == 12 ? datum.label : ''", "tickSize": -5, "labelPadding": 21}}}},
     {"data": {"values": [{"n": "Anakena", "d": 238, "v": 7.2}]}, "mark": {"type": "text", "fontSize": 18.5, "baseline": "alphabetic", "align": "center"},
      "encoding": {"x": {"field": "d", "type": "quantitative"}, "y": {"field": "v", "type": "quantitative"}, "text": {"field": "n"}}}
    ]},
   {"width": 380, "height": 86,
    "layer": [
     {"data": {"name": "Toroko"}, "mark": {"type": "line", "clip": true},
      "encoding": {"x": {"field": "d", "type": "quantitative", "scale": {"domain": [0, 350], "reverse": true, "nice": false}, "axis": {"title": null, "labels": false, "ticks": false}},
                   "y": {"field": "v", "type": "quantitative", "scale": {"domain": [0, 12], "nice": false}, "axis": {"title": null, "values": [0, 3, 6, 9, 12], "labelExpr": "datum.value == 6 || datum.value == 12 ? datum.label : ''", "tickSize": -5, "labelPadding": 21}}}},
     {"data": {"values": [{"n": "Toroko", "d": 278.5, "v": 8.4}]}, "mark": {"type": "text", "fontSize": 18.5, "baseline": "alphabetic", "align": "center"},
      "encoding": {"x": {"field": "d", "type": "quantitative"}, "y": {"field": "v", "type": "quantitative"}, "text": {"field": "n"}}}
    ]},
   {"width": 380, "height": 86,
    "layer": [
     {"data": {"name": "Chapple"}, "mark": {"type": "line", "clip": true},
      "encoding": {"x": {"field": "d", "type": "quantitative", "scale": {"domain": [0, 350], "reverse": true, "nice": false}, "axis": {"title": null, "labels": false, "ticks": false}},
                   "y": {"field": "v", "type": "quantitative", "scale": {"domain": [0, 12], "nice": false}, "axis": {"title": null, "values": [0, 3, 6, 9, 12], "labelExpr": "datum.value == 6 || datum.value == 12 ? datum.label : ''", "tickSize": -5, "labelPadding": 21}}}},
     {"data": {"values": [{"n": "Chapple", "d": 197.5, "v": 9.0}]}, "mark": {"type": "text", "fontSize": 18.5, "baseline": "alphabetic", "align": "center"},
      "encoding": {"x": {"field": "d", "type": "quantitative"}, "y": {"field": "v", "type": "quantitative"}, "text": {"field": "n"}}}
    ]},
   {"width": 380, "height": 86,
    "layer": [
     {"data": {"name": "Ruru"}, "mark": {"type": "line", "clip": true},
      "encoding": {"x": {"field": "d", "type": "quantitative", "scale": {"domain": [0, 350], "reverse": true, "nice": false}, "axis": {"title": null, "labels": false, "ticks": false}},
                   "y": {"field": "v", "type": "quantitative", "scale": {"domain": [0, 12], "nice": false}, "axis": {"title": "Volume per (km³)", "titleX": -63.5, "titleY": 23, "titleBaseline": "middle", "titleAlign": "center", "values": [0, 3, 6, 9, 12], "labelExpr": "datum.value == 6 || datum.value == 12 ? datum.label : ''", "tickSize": -5, "labelPadding": 21}}}},
     {"data": {"values": [{"n": "Ruru", "d": 213.5, "v": 7.35}]}, "mark": {"type": "text", "fontSize": 18.5, "baseline": "alphabetic", "align": "center"},
      "encoding": {"x": {"field": "d", "type": "quantitative"}, "y": {"field": "v", "type": "quantitative"}, "text": {"field": "n"}}}
    ]},
   {"width": 380, "height": 86,
    "layer": [
     {"data": {"name": "Hurihuri"}, "mark": {"type": "line", "clip": true},
      "encoding": {"x": {"field": "d", "type": "quantitative", "scale": {"domain": [0, 350], "reverse": true, "nice": false}, "axis": {"title": null, "labels": false, "ticks": false}},
                   "y": {"field": "v", "type": "quantitative", "scale": {"domain": [0, 12], "nice": false}, "axis": {"title": null, "values": [0, 3, 6, 9, 12], "labelExpr": "datum.value == 6 || datum.value == 12 ? datum.label : ''", "tickSize": -5, "labelPadding": 21}}}},
     {"data": {"values": [{"n": "Hurihuri", "d": 287.3, "v": 8.8}]}, "mark": {"type": "text", "fontSize": 18.5, "baseline": "alphabetic", "align": "center"},
      "encoding": {"x": {"field": "d", "type": "quantitative"}, "y": {"field": "v", "type": "quantitative"}, "text": {"field": "n"}}}
    ]},
   {"width": 380, "height": 86,
    "layer": [
     {"data": {"name": "Cloud"}, "mark": {"type": "line", "clip": true},
      "encoding": {"x": {"field": "d", "type": "quantitative", "scale": {"domain": [0, 350], "reverse": true, "nice": false}, "axis": {"title": null, "labels": false, "ticks": false}},
                   "y": {"field": "v", "type": "quantitative", "scale": {"domain": [0, 12], "nice": false}, "axis": {"title": null, "values": [0, 3, 6, 9, 12], "labelExpr": "datum.value == 6 || datum.value == 12 ? datum.label : ''", "tickSize": -5, "labelPadding": 21}}}},
     {"data": {"values": [{"n": "Cloud", "d": 256.6, "v": 6.6}]}, "mark": {"type": "text", "fontSize": 18.5, "baseline": "alphabetic", "align": "center"},
      "encoding": {"x": {"field": "d", "type": "quantitative"}, "y": {"field": "v", "type": "quantitative"}, "text": {"field": "n"}}}
    ]},
   {"width": 380, "height": 108,
    "layer": [
     {"data": {"name": "Sum"}, "mark": {"type": "line", "clip": true},
      "encoding": {"x": {"field": "d", "type": "quantitative", "scale": {"domain": [0, 350], "reverse": true, "nice": false}, "axis": {"title": "Distance off-axis (km)", "titleX": 178, "titleY": 46, "titleBaseline": "middle", "titleAlign": "center", "values": [0, 50, 100, 150, 200, 250, 300], "labelExpr": "datum.value % 100 == 0 ? datum.label : ''", "tickSize": -4, "labelPadding": 16}},
                   "y": {"field": "v", "type": "quantitative", "scale": {"domain": [0, 30], "nice": false}, "axis": {"title": null, "values": [0, 6, 12, 18, 24, 30], "labelExpr": "datum.value == 12 || datum.value == 24 ? datum.label : ''", "tickSize": -5, "labelPadding": 21}}}},
     {"data": {"values": [{"n": "Sum", "d": 239.4, "v": 22.6}]}, "mark": {"type": "text", "fontSize": 18.5, "baseline": "alphabetic", "align": "center"},
      "encoding": {"x": {"field": "d", "type": "quantitative"}, "y": {"field": "v", "type": "quantitative"}, "text": {"field": "n"}}}
    ]}
  ]
 },
 {
  "title": {"text": "b", "offset": -10.5},
  "spacing": 38,
  "vconcat": [
   {"width": 381, "height": 86,
    "title": {"text": "SIMULATION", "font": "DejaVu Sans", "fontStyle": "normal", "fontWeight": "normal", "fontSize": 20, "anchor": "middle", "frame": "group", "offset": 2.5, "dx": -28},
    "data": {"name": "Sim"},
    "mark": {"type": "line", "clip": true},
    "encoding": {"x": {"field": "d", "type": "quantitative", "scale": {"domain": [0, 350], "reverse": true, "nice": false}, "axis": {"title": "Distance off-axis (km)", "titleX": 174, "titleY": 60, "titleBaseline": "middle", "titleAlign": "center", "values": [0, 50, 100, 150, 200, 250, 300], "labelExpr": "datum.value % 100 == 0 ? datum.label : ''", "tickSize": -4, "labelPadding": 18}},
                 "y": {"field": "v", "type": "quantitative", "scale": {"domain": [0, 12], "nice": false}, "axis": {"title": "Volume per (km³)", "titleX": -60, "titleY": 76, "titleBaseline": "middle", "titleAlign": "center", "values": [0, 3, 6, 9, 12], "labelExpr": "datum.value == 6 || datum.value == 12 ? datum.label : ''", "tickSize": -5, "labelPadding": 21}}}},
   {"width": 375, "height": 260,
    "title": {"text": "c", "offset": -2, "dx": 6},
    "view": {"stroke": "#000", "strokeWidth": 1.2},
    "layer": [
     {"data": {"name": "curve"}, "mark": {"type": "line", "strokeDash": [9, 6], "strokeWidth": 2, "interpolate": "monotone", "clip": true},
      "encoding": {"x": {"field": "r", "type": "quantitative", "scale": {"domain": [-0.4, 0.6], "nice": false, "zero": false},
                         "axis": {"title": "Cross-correlation coefficients", "titleX": 196.5, "titleY": 40.5, "titleBaseline": "middle", "titleAlign": "center", "values": [-0.4, -0.3, -0.2, -0.1, 0, 0.1, 0.2, 0.3, 0.4, 0.5, 0.6], "labelExpr": "round(datum.value * 10) % 2 == 0 ? toString(round(datum.value * 10) / 10) : ''", "tickSize": -5, "labelPadding": 16, "labelFontSize": 16}},
                   "y": {"field": "c", "type": "quantitative", "scale": {"domain": [0, 1], "nice": false},
                         "axis": {"title": "Cumulative distribution", "titleX": -64.5, "titleY": 125.5, "titleBaseline": "middle", "titleAlign": "center", "values": [0, 0.1, 0.2, 0.3, 0.4, 0.5, 0.6, 0.7, 0.8, 0.9, 1], "labelExpr": "round(datum.value * 10) % 2 == 0 ? toString(round(datum.value * 10) / 10) : ''", "tickSize": -5, "labelPadding": 15, "labelFontSize": 16}}}},
     {"data": {"name": "pts"}, "transform": [{"filter": "datum.k == 'open'"}], "mark": {"type": "point", "shape": "circle", "filled": true, "fill": "white", "stroke": "#000", "strokeWidth": 1.3, "size": 55, "opacity": 1},
      "encoding": {"x": {"field": "r", "type": "quantitative"}, "y": {"field": "c", "type": "quantitative"}}},
     {"data": {"name": "pts"}, "transform": [{"filter": "datum.k == 'filled'"}], "mark": {"type": "circle", "color": "#000", "size": 100, "opacity": 1},
      "encoding": {"x": {"field": "r", "type": "quantitative"}, "y": {"field": "c", "type": "quantitative"}}},
     {"data": {"name": "mean"}, "mark": {"type": "square", "color": "#000", "size": 170, "opacity": 1},
      "encoding": {"x": {"field": "r", "type": "quantitative"}, "y": {"field": "c", "type": "quantitative"}}},
     {"data": {"name": "mean"}, "mark": {"type": "circle", "color": "#fff", "size": 30, "opacity": 1},
      "encoding": {"x": {"field": "r", "type": "quantitative"}, "y": {"field": "c", "type": "quantitative"}}},
     {"data": {"name": "mean"}, "mark": {"type": "rule", "color": "#000", "strokeWidth": 1},
      "encoding": {"x": {"field": "ar", "type": "quantitative"}, "y": {"field": "ac", "type": "quantitative"}, "x2": {"field": "ar2"}, "y2": {"field": "ac2"}}},
     {"data": {"name": "mean"}, "mark": {"type": "point", "shape": "triangle-up", "filled": true, "color": "#000", "size": 30, "angle": 135, "opacity": 1},
      "encoding": {"x": {"field": "ar2", "type": "quantitative"}, "y": {"field": "ac2", "type": "quantitative"}}},
     {"data": {"name": "mean"}, "mark": {"type": "text", "fontSize": 15, "fontWeight": "bold", "baseline": "alphabetic", "align": "center"},
      "encoding": {"x": {"field": "lr", "type": "quantitative"}, "y": {"field": "lc", "type": "quantitative"}, "text": {"field": "label"}}}
    ]}
  ]
 }
],
"spacing": 57
}
